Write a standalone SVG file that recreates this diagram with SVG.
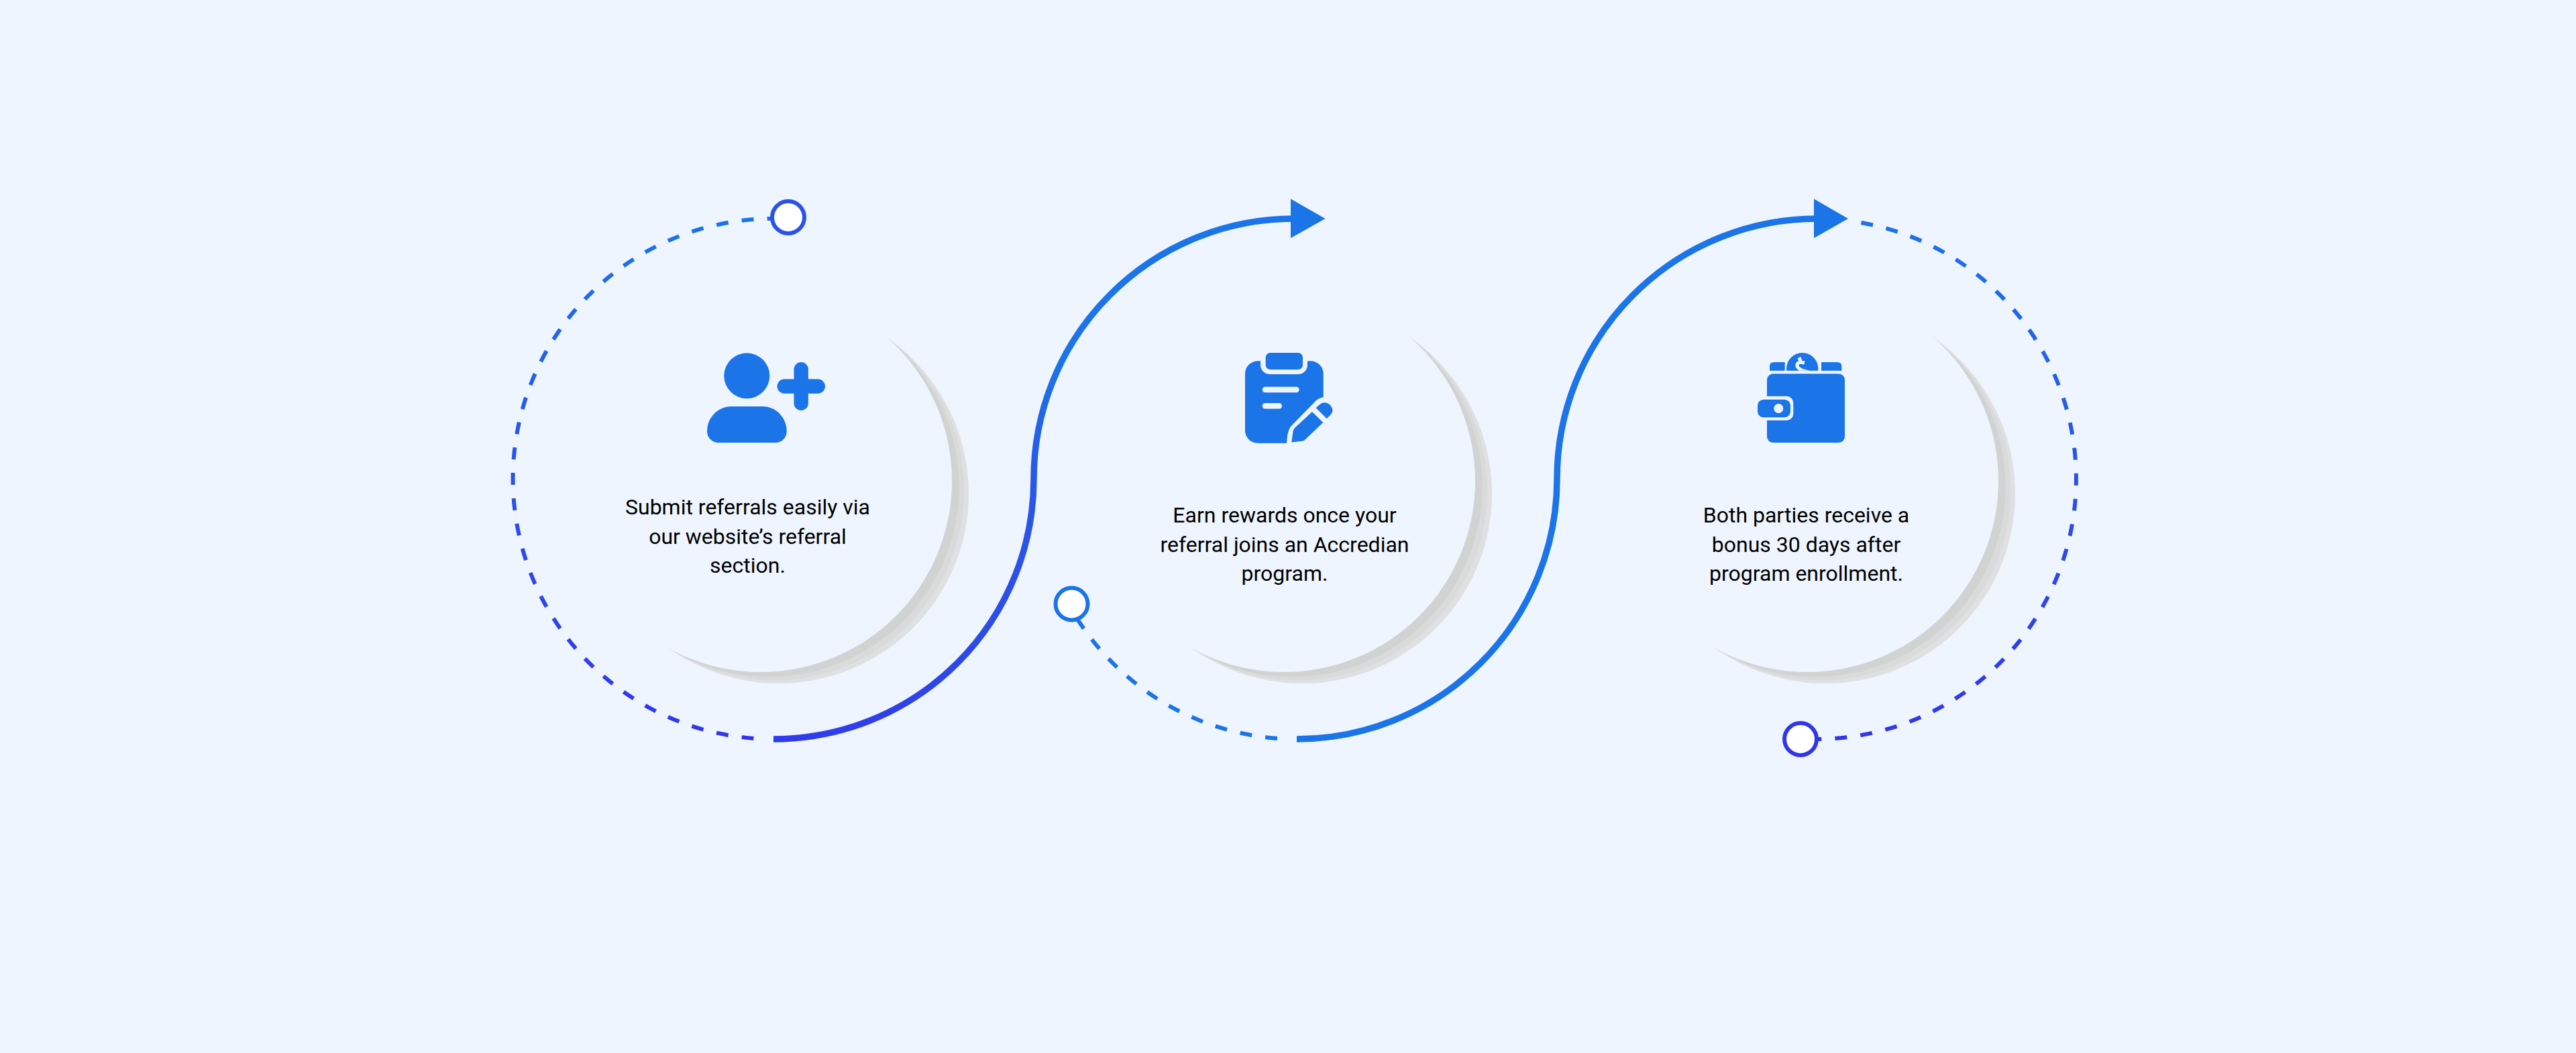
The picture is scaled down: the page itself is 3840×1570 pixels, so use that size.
<svg xmlns="http://www.w3.org/2000/svg" xmlns:xlink="http://www.w3.org/1999/xlink" width="3840" height="1570" viewBox="0 0 3840 1570">
<style>
.bg{fill:#eef5ff}
.ic{fill:#1b74e8}
.cut{fill:#eef5ff}
.lbl{font-family:Roboto,"Liberation Sans",sans-serif;font-size:32px;fill:#000;text-anchor:middle}
.dash{fill:none;stroke-width:6;stroke-dasharray:18 20.07}
.solid{fill:none;stroke-width:9.5}
.dot{fill:#fff;stroke-width:6}
</style>
<defs>
<linearGradient id="g1" gradientUnits="userSpaceOnUse" x1="0" y1="1102" x2="0" y2="326"><stop offset="0" stop-color="#3236ea"/><stop offset="0.5" stop-color="#2b52e8"/><stop offset="1" stop-color="#1b74e8"/></linearGradient>
<linearGradient id="g2" gradientUnits="userSpaceOnUse" x1="0" y1="1102" x2="0" y2="326"><stop offset="0" stop-color="#303cea"/><stop offset="0.2" stop-color="#2c4ce8"/><stop offset="0.5" stop-color="#2958e8"/><stop offset="0.72" stop-color="#1b74e8"/></linearGradient>
<g id="moon">
<circle cx="27" cy="19" r="283" fill="#dfe0e1"/>
<circle cx="20" cy="14" r="283.3" fill="#d9dbdb"/>
<circle cx="12" cy="8.5" r="283.6" fill="#d1d3d3"/>
<circle cx="0" cy="0" r="285" class="bg"/>
</g>
<clipPath id="coin"><rect x="2650" y="520" width="70" height="32.7"/></clipPath>
</defs>
<rect width="3840" height="1570" class="bg"/>
<g id="shadows">
<use xlink:href="#moon" href="#moon" x="1134" y="717"/>
<use xlink:href="#moon" href="#moon" x="1914" y="717"/>
<use xlink:href="#moon" href="#moon" x="2694" y="717"/>
</g>
<g id="connectors">
<path class="dash" stroke="url(#g1)" d="M1123.4,1100.9 A388,388 0 0 1 1153,326"/>
<path class="solid" stroke="url(#g2)" d="M1153,1102 A388,388 0 0 0 1541,714 A388,388 0 0 1 1929,326"/>
<path class="dash" stroke="#1b74e8" d="M1904,1101 A388,388 0 0 1 1593.5,902"/>
<path class="solid" stroke="#1b74e8" d="M1933,1102 A388,388 0 0 0 2321,714 A388,388 0 0 1 2709,326"/>
<path class="dash" stroke="url(#g1)" d="M2697.4,1101.9 A388,388 0 0 0 2767,330.7"/>
<polygon class="ic" points="1924,296.5 1975.5,326 1924,355"/>
<polygon class="ic" points="2704,296.5 2755,326 2704,355"/>
</g>
<g id="start-1"><circle class="dot" stroke="#2b52e8" cx="1175" cy="324" r="24"/></g>
<g id="start-2"><circle class="dot" stroke="#1b74e8" cx="1597.5" cy="900.5" r="24"/></g>
<g id="start-3"><circle class="dot" stroke="#3236ea" cx="2684" cy="1102" r="24"/></g>
<g id="step-1">
<circle class="ic" cx="1113.3" cy="560.3" r="34"/>
<path class="ic" d="M1090,606 H1137 C1157,606 1172.7,623 1172.7,643 C1172.7,653 1165,660 1156,660 H1071 C1062,660 1054,653 1054,643 C1054,623 1070,606 1090,606 Z"/>
<rect class="ic" x="1158.5" y="565.3" width="71.5" height="21.4" rx="10.7"/>
<rect class="ic" x="1183.5" y="540" width="21.4" height="72" rx="10.7"/>
<text class="lbl" x="1114.5" y="767">Submit referrals easily via</text>
<text class="lbl" x="1114.5" y="810.5">our website’s referral</text>
<text class="lbl" x="1114.5" y="854">section.</text>
</g>
<g id="step-2">
<rect class="ic" x="1856" y="538.3" width="116.7" height="122.4" rx="19"/>
<rect class="cut" x="1879" y="530" width="70" height="28" rx="14"/>
<rect class="cut" x="1879" y="530" width="70" height="12"/>
<rect class="ic" x="1886.7" y="526" width="55.3" height="25" rx="7"/>
<rect class="cut" x="1881.7" y="576.7" width="55" height="8.6" rx="4.3"/>
<rect class="cut" x="1881.7" y="601" width="29.3" height="8.6" rx="4.3"/>
<path class="cut" d="M1973,592 Q1967,593 1962,597 L1925,635 Q1919,641 1918,661 L1980,661 L1980,592 Z"/>
<path class="ic" d="M1956,614 L1972.3,630 L1946,655 Q1944,657 1942,657.5 L1925.3,659.5 L1927.5,643 Q1928,640 1930,638 Z"/>
<path class="ic" d="M1961.7,608.3 L1965,605 Q1974,596 1983,604 Q1990,612 1983,619 L1977.7,624 Z"/>
<text class="lbl" x="1915" y="779">Earn rewards once your</text>
<text class="lbl" x="1915" y="822.5">referral joins an Accredian</text>
<text class="lbl" x="1915" y="866">program.</text>
</g>
<g id="step-3">
<path class="ic" d="M2638,552.7 V546 Q2638,540 2644,540 H2660.7 V552.7 Z"/>
<path class="ic" d="M2715,540 H2739 Q2745.3,540 2745.3,546 V552.7 H2715 Z"/>
<circle class="ic" cx="2686.7" cy="549.7" r="23.7" clip-path="url(#coin)"/>
<g clip-path="url(#coin)" fill="none" stroke="#eef5ff" stroke-width="5">
<path d="M2690,541 Q2678,538 2679,546 Q2681,552 2697,555"/>
<path d="M2682,533 L2685,541"/>
</g>
<rect class="ic" x="2634" y="557.3" width="116" height="102.7" rx="9"/>
<rect class="cut" x="2625" y="590.7" width="48.3" height="36" rx="10"/>
<rect class="ic" x="2620" y="595.7" width="49" height="26.6" rx="9"/>
<circle class="cut" cx="2651.3" cy="609" r="7"/>
<text class="lbl" x="2692.5" y="779">Both parties receive a</text>
<text class="lbl" x="2692.5" y="822.5">bonus 30 days after</text>
<text class="lbl" x="2692.5" y="866">program enrollment.</text>
</g>
</svg>
